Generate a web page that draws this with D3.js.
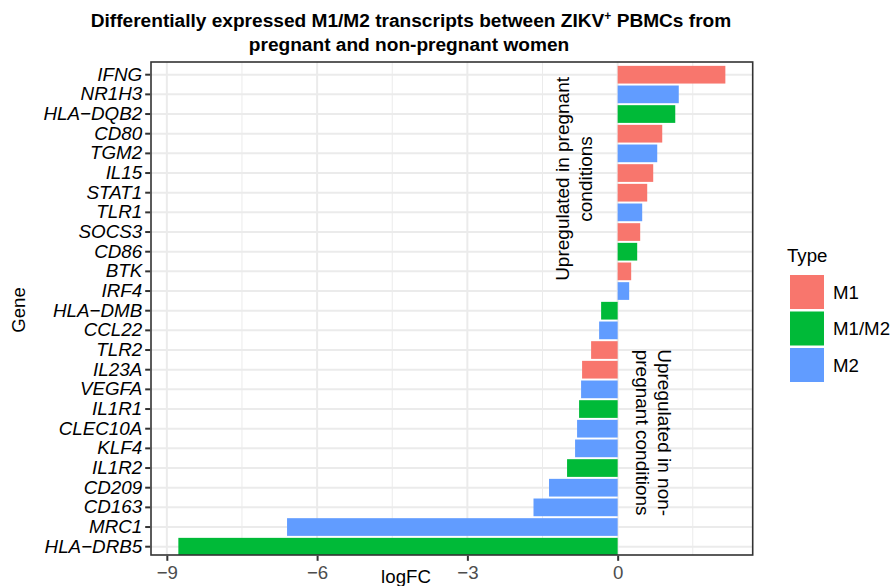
<!DOCTYPE html>
<html>
<head>
<meta charset="utf-8">
<script src="https://cdn.jsdelivr.net/npm/d3@7"></script>
<style>
  body { margin: 0; background: #fff; }
  svg text { font-family: "Liberation Sans", Arial, Helvetica, sans-serif; }
</style>
</head>
<body>
<div id="chart"></div>
<script>
// genes, top to bottom
var genes = ['IFNG', 'NR1H3', 'HLA−DQB2', 'CD80', 'TGM2', 'IL15', 'STAT1', 'TLR1', 'SOCS3', 'CD86', 'BTK', 'IRF4',
  'HLA−DMB', 'CCL22', 'TLR2', 'IL23A', 'VEGFA', 'IL1R1', 'CLEC10A', 'KLF4', 'IL1R2', 'CD209', 'CD163', 'MRC1', 'HLA−DRB5'];
var logFC = [2.15, 1.22, 1.15, 0.89, 0.79, 0.71, 0.59, 0.49, 0.45, 0.39, 0.27, 0.23,
  -0.33, -0.37, -0.53, -0.71, -0.73, -0.77, -0.81, -0.85, -1.01, -1.37, -1.68, -6.60, -8.77];
var types = ['M1', 'M2', 'M1/M2', 'M1', 'M2', 'M1', 'M1', 'M2', 'M1', 'M1/M2', 'M1', 'M2',
  'M1/M2', 'M2', 'M1', 'M1', 'M2', 'M1/M2', 'M2', 'M2', 'M1/M2', 'M2', 'M2', 'M2', 'M1/M2'];
var typeLevels = ['M1', 'M1/M2', 'M2'];
var typeColors = ['#F8766D', '#00BA38', '#619CFF'];
var xTicks = [-9, -6, -3, 0];
var xMinor = [-7.5, -4.5, -1.5, 1.5];

// annotations: x in logFC, y in gene position (1 = bottom row)
var notes = [
  {lines: ['Upregulated in pregnant', 'conditions'], x: -0.88, y: 19.7, angle: -90},
  {lines: ['Upregulated in non-', 'pregnant conditions'], x: 0.73, y: 6.8, angle: 90}
];

var data = genes.map(function(g, i) { return {gene: g, logFC: logFC[i], type: types[i]}; });

var W = 894, H = 586;
var pad = {l: 151, r: 752.7, t: 62, b: 555};
var band = [62.9, 558.5];

var svg = d3.select('#chart').append('svg')
  .attr('width', W).attr('height', H);

// ggplot style 5% expansion
var ext = d3.extent(logFC.concat([0]));
var span = ext[1] - ext[0];
var x = d3.scaleLinear().domain([ext[0] - span * 0.05, ext[1] + span * 0.05]).range([pad.l, pad.r]);

var y = d3.scaleBand().domain(genes).range(band).paddingInner(0.1).paddingOuter(0.15);
var yPos = d3.scaleLinear().domain([0.4, genes.length + 0.6]).range([band[1], band[0]]);

var color = d3.scaleOrdinal().domain(typeLevels).range(typeColors);

svg.append('clipPath').attr('id', 'panel').append('rect')
  .attr('x', pad.l).attr('y', pad.t).attr('width', pad.r - pad.l).attr('height', pad.b - pad.t);
var plot = svg.append('g').attr('clip-path', 'url(#panel)');

// grid
plot.selectAll('.minor').data(xMinor).enter().append('line')
  .attr('x1', function(d) { return x(d); }).attr('x2', function(d) { return x(d); })
  .attr('y1', pad.t).attr('y2', pad.b)
  .attr('stroke', '#EBEBEB').attr('stroke-width', 1);
plot.selectAll('.majx').data(xTicks).enter().append('line')
  .attr('x1', function(d) { return x(d); }).attr('x2', function(d) { return x(d); })
  .attr('y1', pad.t).attr('y2', pad.b)
  .attr('stroke', '#EBEBEB').attr('stroke-width', 2);
plot.selectAll('.majy').data(genes).enter().append('line')
  .attr('x1', pad.l).attr('x2', pad.r)
  .attr('y1', function(d) { return y(d) + y.bandwidth() / 2; })
  .attr('y2', function(d) { return y(d) + y.bandwidth() / 2; })
  .attr('stroke', '#EBEBEB').attr('stroke-width', 2);

// bars
plot.selectAll('rect.bar').data(data).enter().append('rect')
  .attr('class', 'bar')
  .attr('x', function(d) { return x(Math.min(0, d.logFC)); })
  .attr('y', function(d) { return y(d.gene); })
  .attr('width', function(d) { return Math.abs(x(d.logFC) - x(0)); })
  .attr('height', y.bandwidth())
  .attr('fill', function(d) { return color(d.type); });

// annotations
notes.forEach(function(n) {
  var cx = x(n.x), cy = yPos(n.y);
  var t = svg.append('text')
    .attr('transform', 'translate(' + cx + ',' + cy + ') rotate(' + n.angle + ')')
    .attr('text-anchor', 'middle')
    .style('font-size', '19px').attr('fill', '#000');
  var lh = 22.5;
  var off = -(n.lines.length - 1) * lh / 2 + 7;
  n.lines.forEach(function(l, i) {
    t.append('tspan').attr('x', 0).attr('y', off + i * lh).text(l);
  });
});

// panel border
svg.append('rect')
  .attr('x', pad.l).attr('y', pad.t)
  .attr('width', pad.r - pad.l).attr('height', pad.b - pad.t)
  .attr('fill', 'none').attr('stroke', '#333333').attr('stroke-width', 1.6);

// axes
var xAxis = svg.append('g').attr('transform', 'translate(0,' + (pad.b + 0.8) + ')')
  .call(d3.axisBottom(x).tickValues(xTicks).tickSize(5).tickPadding(5));
var yAxis = svg.append('g').attr('transform', 'translate(' + (pad.l - 0.8) + ',0)')
  .call(d3.axisLeft(y).tickSize(5).tickPadding(3));
[xAxis, yAxis].forEach(function(a) {
  a.select('.domain').remove();
  a.selectAll('.tick line').attr('stroke', '#333333').attr('stroke-width', 2);
});
xAxis.selectAll('.tick text').style('font-size', '18.67px').attr('fill', '#4D4D4D');
yAxis.selectAll('.tick text').style('font-size', '18.8px').style('font-style', 'italic').attr('fill', '#000');

// axis titles
svg.append('text').attr('x', 406).attr('y', 583).attr('text-anchor', 'middle')
  .style('font-size', '18.67px').text('logFC');
svg.append('text').attr('transform', 'translate(25,310) rotate(-90)').attr('text-anchor', 'middle')
  .style('font-size', '18.67px').text('Gene');

// title
var title = svg.append('g').attr('font-weight', 'bold').style('font-size', '19.1px');
var t1 = title.append('text').attr('x', 411).attr('y', 27).attr('text-anchor', 'middle');
t1.append('tspan').text('Differentially expressed M1/M2 transcripts between ZIKV');
t1.append('tspan').attr('dy', -7).style('font-size', '12px').text('+');
t1.append('tspan').attr('dy', 7).text(' PBMCs from');
title.append('text').attr('x', 409).attr('y', 51).attr('text-anchor', 'middle')
  .text('pregnant and non-pregnant women');

// legend
var leg = svg.append('g').attr('transform', 'translate(790,0)');
leg.append('text').attr('x', -3).attr('y', 262).style('font-size', '18.67px').text('Type');
var keys = leg.selectAll('.key').data(typeLevels).enter().append('g')
  .attr('transform', function(d, i) { return 'translate(0,' + (275 + i * 36.5) + ')'; });
keys.append('rect').attr('width', 34).attr('height', 34)
  .attr('fill', function(d) { return color(d); });
keys.append('text').attr('x', 43).attr('y', 17).attr('dy', '0.35em')
  .style('font-size', '18.67px').text(function(d) { return d; });
</script>
</body>
</html>
